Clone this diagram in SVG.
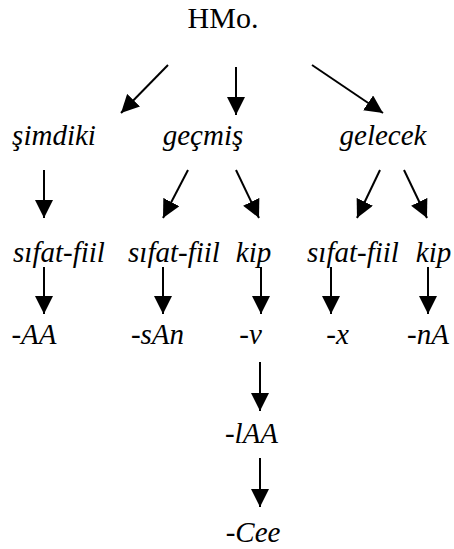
<svg xmlns="http://www.w3.org/2000/svg" width="454" height="549" viewBox="0 0 454 549">
<defs>
<marker id="ah" markerUnits="userSpaceOnUse" markerWidth="18" markerHeight="18" viewBox="0 0 16 16" refX="16" refY="8" orient="auto">
<path d="M0,0 L16,8 L0,16 Z" fill="#000"/>
</marker>
</defs>
<style>
text{font-family:"Liberation Serif","Times New Roman",serif;text-anchor:middle;fill:#000}
.t{font-size:29px;font-style:italic}
.r{font-size:30px}
.c line{stroke:#000;stroke-width:2;marker-end:url(#ah)}
</style>
<rect width="454" height="549" fill="#fff"/>
<g id="n-hmo"><text class="r" x="223" y="28">HMo.</text></g>
<g id="n-simdiki"><text class="t" x="54" y="145">şimdiki</text></g>
<g id="n-gecmis"><text class="t" x="203" y="145">geçmiş</text></g>
<g id="n-gelecek"><text class="t" x="383" y="145">gelecek</text></g>
<g id="n-sf1"><text class="t" x="59" y="262">sıfat-fiil</text></g>
<g id="n-sf2"><text class="t" x="174" y="262">sıfat-fiil</text></g>
<g id="n-kip1"><text class="t" x="253.5" y="262">kip</text></g>
<g id="n-sf3"><text class="t" x="353" y="262">sıfat-fiil</text></g>
<g id="n-kip2"><text class="t" x="433.5" y="262">kip</text></g>
<g id="n-AA"><text class="t" x="34" y="344">-AA</text></g>
<g id="n-sAn"><text class="t" x="157.5" y="344">-sAn</text></g>
<g id="n-v"><text class="t" x="250.5" y="344">-v</text></g>
<g id="n-x"><text class="t" x="337.5" y="344">-x</text></g>
<g id="n-nA"><text class="t" x="428" y="344">-nA</text></g>
<g id="n-lAA"><text class="t" x="251.5" y="443">-lAA</text></g>
<g id="n-Cee"><text class="t" x="253" y="542">-Cee</text></g>
<g id="connectors" class="c">
<line x1="168" y1="65" x2="121" y2="113"/>
<line x1="236" y1="67" x2="236" y2="115"/>
<line x1="312" y1="65" x2="383" y2="113"/>
<line x1="44" y1="170" x2="44" y2="218"/>
<line x1="188" y1="170" x2="163" y2="218"/>
<line x1="236" y1="170" x2="259" y2="218"/>
<line x1="380" y1="170" x2="357" y2="218"/>
<line x1="404" y1="170" x2="427" y2="218"/>
<line x1="44" y1="267" x2="44" y2="314"/>
<line x1="163" y1="267" x2="163" y2="314"/>
<line x1="261" y1="267" x2="261" y2="314"/>
<line x1="331" y1="267" x2="331" y2="314"/>
<line x1="428" y1="267" x2="428" y2="314"/>
<line x1="260" y1="362" x2="260" y2="411"/>
<line x1="260" y1="458" x2="260" y2="507"/>
</g>
</svg>
